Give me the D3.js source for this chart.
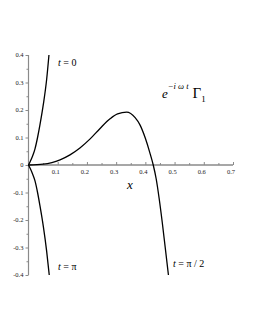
<!DOCTYPE html>
<html>
<head>
<meta charset="utf-8">
<script src="https://cdn.jsdelivr.net/npm/d3@7"></script>
<style>
  body { margin: 0; background: #fff; }
  svg { display: block; }
</style>
</head>
<body>
<div id="chart"></div>
<script>
// values
const xMajorTicks = [0.1, 0.2, 0.3, 0.4, 0.5, 0.6, 0.7];
const xMinorTicks = [0.05, 0.15, 0.25, 0.35, 0.45, 0.55, 0.65];
const yMajorTicks = [-0.4, -0.3, -0.2, -0.1, 0, 0.1, 0.2, 0.3, 0.4];
const yMinorTicks = [-0.35, -0.25, -0.15, -0.05, 0.05, 0.15, 0.25, 0.35];

// t = 0
const curveT0 = [[0, 0], [0.006, 0.013], [0.013, 0.03], [0.022, 0.058], [0.031, 0.10], [0.039, 0.145],
  [0.051, 0.222], [0.062, 0.31], [0.070, 0.4]];
// t = pi
const curveTpi = [[0, 0], [0.006, -0.013], [0.013, -0.03], [0.022, -0.057], [0.031, -0.10], [0.039, -0.147],
  [0.051, -0.225], [0.062, -0.312], [0.071, -0.4]];
// t = pi/2
const curveTpi2 = [[0, 0], [0.05, 0.003], [0.08, 0.009], [0.108, 0.019], [0.142, 0.037], [0.176, 0.062],
  [0.211, 0.095], [0.245, 0.133], [0.279, 0.168], [0.305, 0.186], [0.336, 0.192],
  [0.365, 0.172], [0.382, 0.145], [0.400, 0.097], [0.415, 0.046], [0.427, 0],
  [0.437, -0.05], [0.447, -0.12], [0.458, -0.21], [0.468, -0.30], [0.479, -0.4]];

const width = 255;
const height = 330;
const serif = '"Liberation Serif", "DejaVu Serif", serif';

const x = d3.scaleLinear().domain([0, 0.7]).range([28.5, 233]);
const y = d3.scaleLinear().domain([-0.4, 0.4]).range([275, 55]);

const svg = d3.select('#chart').append('svg')
  .attr('width', width)
  .attr('height', height)
  .attr('font-family', serif);

const axisColor = '#8a8a8a';

// x axis (through y = 0)
const xAxisG = svg.append('g').attr('transform', `translate(0,${y(0)})`);
xAxisG.call(d3.axisTop(x).tickValues(xMajorTicks).tickSize(3).tickSizeOuter(0).tickFormat(''));
xAxisG.append('g').call(d3.axisTop(x).tickValues(xMinorTicks).tickSize(2).tickFormat(''))
  .select('.domain').remove();
xAxisG.selectAll('.domain').attr('stroke', axisColor).attr('stroke-width', 1.5)
  .attr('d', `M${x(0)},0H${x(0.7)}`);
xAxisG.selectAll('.tick line').attr('stroke', axisColor);
xAxisG.selectAll('.xlab')
  .data(xMajorTicks)
  .join('text')
  .attr('class', 'xlab')
  .attr('x', d => x(d) - 2)
  .attr('y', 8.5)
  .attr('text-anchor', 'middle')
  .attr('font-family', serif)
  .attr('font-size', 6.5)
  .attr('fill', '#222')
  .text(d => d3.format('.1f')(d));

// y axis (through x = 0)
const yAxisG = svg.append('g').attr('transform', `translate(${x(0)},0)`);
yAxisG.call(d3.axisLeft(y).tickValues(yMajorTicks).tickSize(3).tickSizeOuter(0).tickFormat(''));
yAxisG.append('g').call(d3.axisLeft(y).tickValues(yMinorTicks).tickSize(2).tickFormat(''))
  .select('.domain').remove();
yAxisG.selectAll('.domain').attr('stroke', axisColor).attr('stroke-width', 1.2)
  .attr('d', `M0,${y(-0.4)}V${y(0.4)}`);
yAxisG.selectAll('.tick line').attr('stroke', axisColor);
yAxisG.selectAll('.ylab')
  .data(yMajorTicks)
  .join('text')
  .attr('class', 'ylab')
  .attr('x', -5)
  .attr('y', d => y(d) + 2)
  .attr('text-anchor', 'end')
  .attr('font-family', serif)
  .attr('font-size', 6.5)
  .attr('fill', '#222')
  .text(d => d === 0 ? '0' : d3.format('.1f')(d).replace('−', '-'));

// curves
const line = d3.line()
  .x(d => x(d[0]))
  .y(d => y(d[1]))
  .curve(d3.curveMonotoneX);

svg.selectAll('.curve')
  .data([curveT0, curveTpi, curveTpi2])
  .join('path')
  .attr('class', 'curve')
  .attr('d', line)
  .attr('fill', 'none')
  .attr('stroke', '#000')
  .attr('stroke-width', 1.3);

// labels
const lab = (tx, ty, parts, size) => {
  const t = svg.append('text').attr('x', tx).attr('y', ty).attr('font-size', size);
  parts.forEach(p => {
    t.append('tspan').attr('font-style', p[1] ? 'italic' : 'normal').text(p[0]);
  });
};
lab(58, 66, [['t', true], [' = 0', false]], 10);
lab(58, 270, [['t', true], [' = π', false]], 10);
lab(173, 267, [['t', true], [' = π / 2', false]], 10);

svg.append('text').attr('x', 127).attr('y', 189)
  .attr('font-size', 13).attr('font-style', 'italic').text('x');

const title = svg.append('text').attr('x', 162).attr('y', 98).attr('font-size', 13);
title.append('tspan').attr('font-style', 'italic').text('e');
title.append('tspan').attr('dy', -9).attr('font-size', 8.5).attr('font-style', 'italic').text('−i ω t');
title.append('tspan').attr('dy', 9).attr('dx', 4).attr('font-size', 15).text('Γ');
title.append('tspan').attr('dy', 4).attr('font-size', 9).text('1');
</script>
</body>
</html>
